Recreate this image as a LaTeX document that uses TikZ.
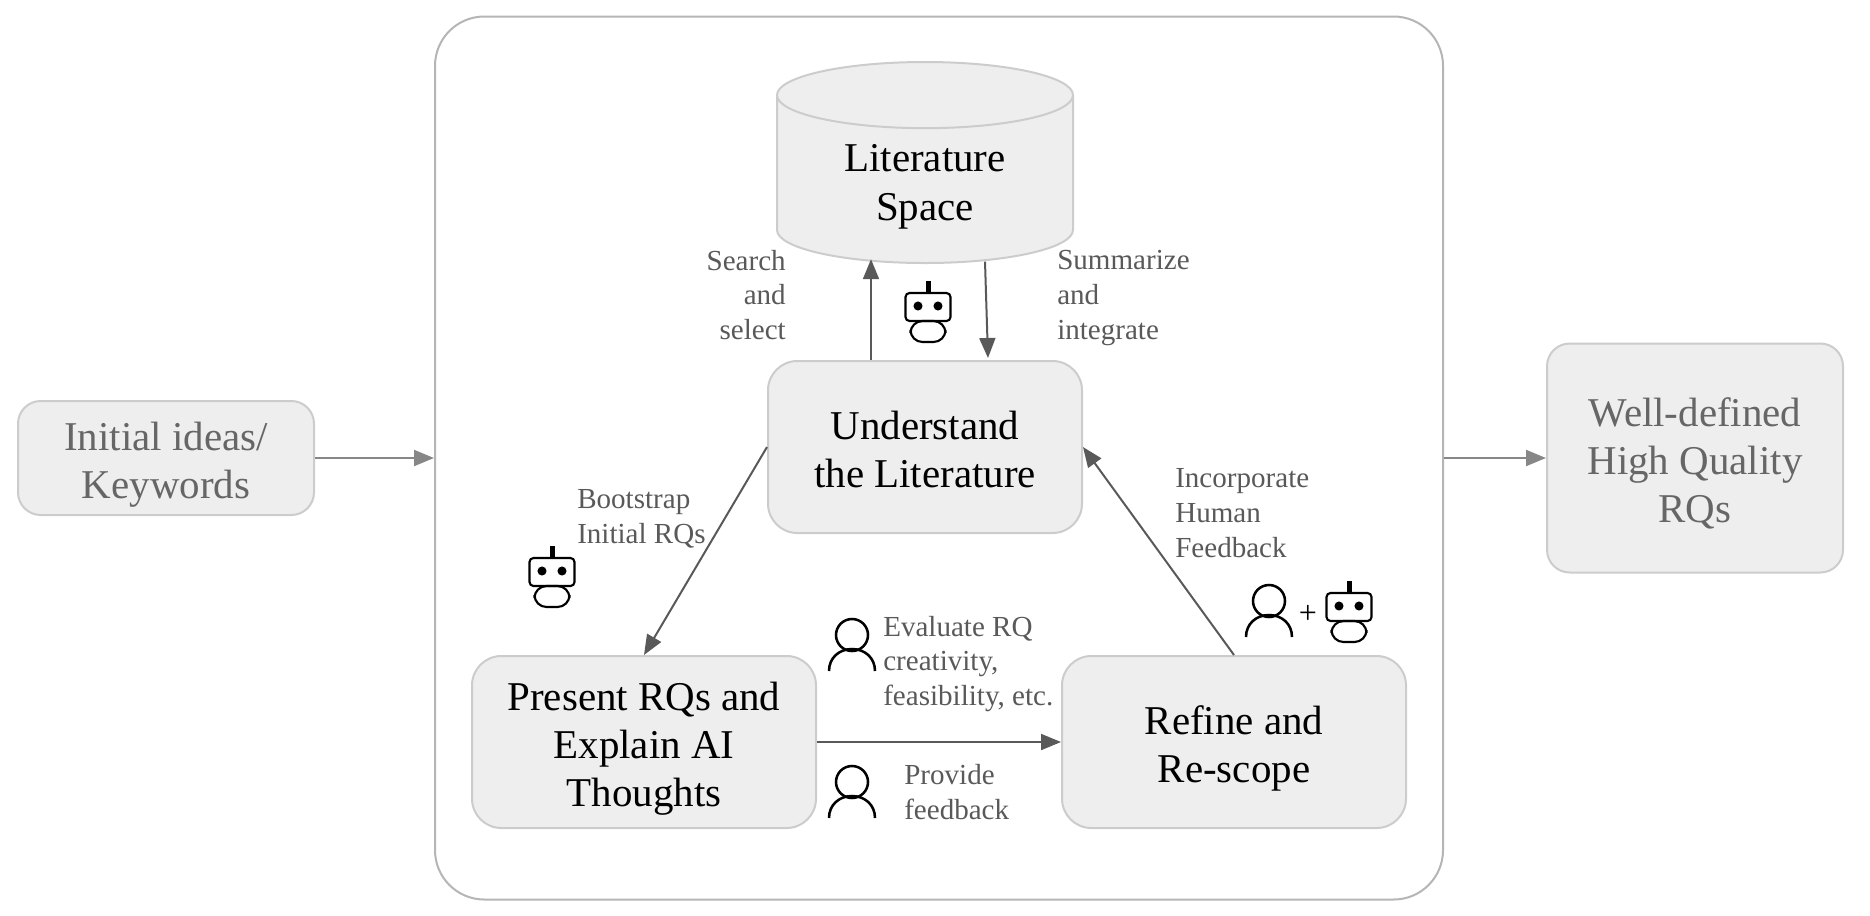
\documentclass[tikz,border=0pt]{standalone}
\usepackage{fontspec}
\setmainfont{Liberation Serif}
\usetikzlibrary{arrows.meta,shapes.geometric}
\definecolor{boxfill}{HTML}{EEEEEE}
\definecolor{boxline}{HTML}{CCCCCC}
\definecolor{notegray}{HTML}{595959}
\definecolor{startgray}{HTML}{666666}
\newcommand{\pxu}{0.75pt}

\begin{document}
\begin{tikzpicture}[x=0.75pt,y=-0.75pt]
    \tikzstyle{bigtext} = [align=center, font=\fontsize{30.7}{36.3}\selectfont, text depth=0pt, text height=61pt];
    \tikzstyle{threelines} = [text height=97.3pt];
    \tikzstyle{stepbox} = [shape=rectangle, rounded corners=22pt, fill=boxfill, draw=boxline, line width=1.5pt, inner sep=0pt, text=black, bigtext];
    \tikzstyle{endbox} = [stepbox, rounded corners=17pt, text=startgray];
    \tikzstyle{note} = [inner sep=0pt, text=notegray, font=\fontsize{21.8}{26.2}\selectfont];
    \tikzstyle{flow} = [-{Triangle[length=15pt,width=12pt]}, line width=1.5pt, color=notegray];
    \tikzstyle{feed} = [-{Triangle[length=15pt,width=12pt]}, line width=1.5pt, color=boxline!40!notegray];
    \tikzset{
        robot/.pic={
            \fill (-2.5,-12) rectangle (2.5,0);
            \draw[line width=1.6pt, rounded corners=3pt] (-22.5,0) rectangle (22.5,28);
            \draw[line width=1.6pt, rounded corners=9pt] (-17.5,28) rectangle (17.5,49);
            \fill (-10,13) circle (3.4pt) (10,13) circle (3.4pt);
        },
        person/.pic={
            \draw[line width=1.9pt] (0,0) circle (12pt);
            \draw[line width=1.9pt] (-23,36) .. controls (-23,23) and (-13,14) .. (0,14) .. controls (13,14) and (23,23) .. (23,36);
        }
    }
    \useasboundingbox (0,0) rectangle (1870,915);

    \node[draw=boxline!70!gray, line width=1.5pt, rounded corners=37pt, minimum width=1008*\pxu, minimum height=883*\pxu](frame) at (939,458) {};

    \node[endbox, minimum width=296*\pxu, minimum height=114*\pxu](ideas) at (166,458) {Initial ideas/\\Keywords};
    \node[endbox, threelines, minimum width=296*\pxu, minimum height=229*\pxu](rqs) at (1695,458) {Well-defined\\High Quality\\RQs};

    \node[shape=cylinder, shape border rotate=90, aspect=0.41, anchor=shape center, fill=boxfill, draw=boxline, line width=1.5pt, inner sep=0pt, minimum width=296*\pxu, minimum height=201*\pxu, bigtext](space) at (925,162.5) {Literature\\Space};
    \node[stepbox, minimum width=314*\pxu, minimum height=172*\pxu](understand) at (925,447) {Understand\\the Literature};
    \node[stepbox, threelines, minimum width=344*\pxu, minimum height=172*\pxu](present) at (644,742) {Present RQs and\\Explain AI\\Thoughts};
    \node[stepbox, minimum width=344*\pxu, minimum height=172*\pxu](refine) at (1234,742) {Refine and\\Re-scope};

    \node[note, anchor=east, align=right](search) at (786,295) {Search\\and\\select};
    \node[note, anchor=west, align=left](summarize) at (1057,298) {Summarize\\and\\integrate};
    \node[note, anchor=west, align=left](bootstrap) at (577,518.5) {Bootstrap\\Initial RQs};
    \node[note, anchor=west, align=left](incorporate) at (1175,513) {Incorporate\\Human\\Feedback};
    \node[note, anchor=west, align=left](evaluate) at (883,664) {Evaluate RQ\\creativity,\\feasibility, etc.};
    \node[note, anchor=west, align=left](provide) at (904,792) {Provide\\feedback};
    \node[inner sep=0pt, font=\fontsize{24}{28}\selectfont](plus) at (1308,614) {+};

    \pic at (928,293) {robot};
    \pic at (552,558) {robot};
    \pic at (1349,593) {robot};
    \pic at (852,635) {person};
    \pic at (852,782) {person};
    \pic at (1269,601) {person};

    \path[flow]
        ([xshift=-54*\pxu]understand.north) edge ([xshift=-54*\pxu,yshift=4.8*\pxu]understand.north |- space.south)
        ([xshift=60*\pxu,yshift=2.4*\pxu]understand.north |- space.south) edge ([xshift=63*\pxu,yshift=2*\pxu]understand.north)

        (understand.west) edge (present.north)
        (present.east) edge (refine.west)
        (refine.north) edge (understand.east)
    ;
    \path[feed]
        (ideas.east) edge (frame.west)
        (frame.east) edge (rqs.west)
    ;
\end{tikzpicture}
\end{document}
